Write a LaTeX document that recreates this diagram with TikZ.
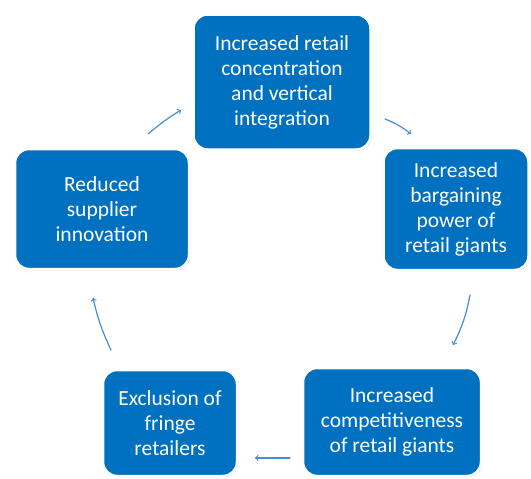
\documentclass[tikz,border=0pt]{standalone}
\usepackage{fontspec}
\setmainfont{Carlito}
\usetikzlibrary{shadows}
\definecolor{boxblue}{RGB}{0,112,192}
\definecolor{arrowblue}{RGB}{70,140,215}
\tikzset{
  cyclebox/.style={draw=white,line width=2.5pt,fill=boxblue,rounded corners=14pt,
    text=white,align=center,inner sep=0pt,
    font=\fontsize{21.5}{25}\selectfont,
    drop shadow={opacity=0.35,shadow xshift=1.2pt,shadow yshift=-1.2pt}},
  cyclearrow/.style={->,arrowblue,line width=1.2pt,line cap=round}
}
\begin{document}
\begin{tikzpicture}[x=1pt,y=-1pt,>=to]
	\useasboundingbox (0,0) rectangle (531,479);
	% boxes
	\node[cyclebox,minimum width=177pt,minimum height=135pt] (conc) at (282,82) {Increased retail\\concentration\\and vertical\\integration};
	\node[cyclebox,minimum width=145pt,minimum height=122pt] (barg) at (456,209) {Increased\\bargaining\\power of\\retail giants};
	\node[cyclebox,minimum width=178pt,minimum height=108pt] (comp) at (392,422) {Increased\\competitiveness\\of retail giants};
	\node[cyclebox,minimum width=134pt,minimum height=106pt] (excl) at (170,423) {Exclusion of\\fringe\\retailers};
	\node[cyclebox,minimum width=174pt,minimum height=120pt] (supp) at (102,209) {Reduced\\supplier\\innovation};
	% arrow ends
	\coordinate (a1) at (385,119); \coordinate (b1) at (411,134);
	\coordinate (a2) at (470,295); \coordinate (b2) at (453,345);
	\coordinate (a3) at (290,458); \coordinate (b3) at (255,458);
	\coordinate (a4) at (111,350); \coordinate (b4) at (93,298);
	\coordinate (a5) at (148,134); \coordinate (b5) at (181,110);
	\draw[cyclearrow] (a1) to[bend left=8] (b1);
	\draw[cyclearrow] (a2) to[bend left=8] (b2);
	\draw[cyclearrow] (a3) -- (b3);
	\draw[cyclearrow] (a4) to[bend left=6] (b4);
	\draw[cyclearrow] (a5) to[bend left=4] (b5);
\end{tikzpicture}
\end{document}
